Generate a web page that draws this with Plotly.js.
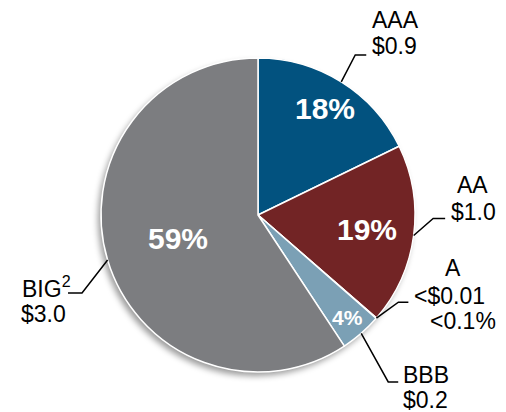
<!DOCTYPE html>
<html>
<head>
<meta charset="utf-8">
<script src="https://cdn.plot.ly/plotly-3.0.1.min.js"></script>
<style>
html,body{margin:0;padding:0;background:#fff;}
#wrap{position:relative;width:506px;height:412px;}
#chart{position:absolute;left:0;top:0;width:506px;height:412px;}
#shadow{position:absolute;border-radius:50%;background:#fff;box-shadow:-3px 4px 6px rgba(0,0,0,0.4);}
</style>
</head>
<body>
<div id="wrap"><div id="shadow"></div><div id="chart"></div></div>
<script>
// ---- data ----
var categories = ["AAA", "AA", "A", "BBB", "BIG<sup>2</sup>"];
var sharePct = [17.8, 18.6, 0.05, 4.3, 59.3];          // share of pie, %
var amountLabels = ["$0.9", "$1.0", "<$0.01", "$0.2", "$3.0"];
var pctLabels = ["18%", "19%", "<0.1%", "4%", "59%"];
var sliceColors = ["#02527f", "#722425", "#722425", "#7ba0b5", "#7c7d80"];

// ---- layout config (pixels) ----
var W = 506, H = 412;
var CX = 258, CY = 215, R = 157;
function px(x){ return x / W; }
function py(y){ return 1 - y / H; }

// decorative drop shadow behind the pie
var sh = document.getElementById("shadow");
sh.style.left = (CX - R) + "px"; sh.style.top = (CY - R) + "px";
sh.style.width = (2 * R) + "px"; sh.style.height = (2 * R) + "px";

// leader: elbow offset from start on circle, then horizontal tail
var leaders = [
  {ex: 14, ey: -27, tail: 11},
  {ex: 19.5, ey: -17, tail: 12},
  {ex: 22, ey: -16, tail: 10},
  {ex: 27, ey: 48.6, tail: 10},
  {ex: -25.6, ey: 33, tail: -14}
];
// text lines relative to tail end: [dx, dy, xanchor]
var labelLines = [
  [[4, -35, "left"], [4, -8.5, "left"]],
  [[27.5, -34, "center"], [28, -6.5, "center"]],
  [[44.5, -34, "center"], [41, -6, "center"], [55, 18.5, "center"]],
  [[3, -7, "left"], [3, 18.5, "left"]],
  [[-48, -6.5, "left"], [-49, 20.5, "left"]]
];
var pctStyle = [
  {rf: 0.80, size: 30},
  {rf: 0.70, size: 30},
  null,
  {rf: 0.87, size: 21},
  {rf: 0.53, size: 30}
];

// ---- compute angles from data ----
var total = sharePct.reduce(function(a,b){return a+b;}, 0);
var cum = 0, mids = [];
for (var i = 0; i < sharePct.length; i++) {
  var a0 = cum / total * 360;
  cum += sharePct[i];
  var a1 = cum / total * 360;
  mids.push((a0 + a1) / 2);
}
function polar(angDeg, r){
  var t = angDeg * Math.PI / 180;
  return [CX + r * Math.sin(t), CY - r * Math.cos(t)];
}

var shapes = [], annotations = [];
var font = "Liberation Sans, Arial, sans-serif";
for (var k = 0; k < categories.length; k++) {
  var s = polar(mids[k], R);
  var L = leaders[k];
  var e = [s[0] + L.ex, s[1] + L.ey];
  var t = [e[0] + L.tail, e[1]];
  shapes.push({
    type: "path", xref: "paper", yref: "paper",
    path: "M " + px(s[0]) + "," + py(s[1]) + " L " + px(e[0]) + "," + py(e[1]) + " L " + px(t[0]) + "," + py(t[1]),
    line: {color: "#000", width: 1.5}
  });
  var texts = [categories[k], amountLabels[k]];
  if (k === 2) texts.push(pctLabels[k]);
  var lines = labelLines[k];
  for (var j = 0; j < lines.length; j++) {
    annotations.push({
      xref: "paper", yref: "paper",
      x: px(t[0] + lines[j][0]), y: py(t[1] + lines[j][1]),
      xanchor: lines[j][2], yanchor: "middle",
      text: texts[j], showarrow: false,
      font: {family: font, size: 23, color: "#000"}
    });
  }
  if (pctStyle[k]) {
    var p = polar(mids[k], R * pctStyle[k].rf);
    annotations.push({
      xref: "paper", yref: "paper", x: px(p[0]), y: py(p[1]),
      xanchor: "center", yanchor: "middle",
      text: "<b>" + pctLabels[k] + "</b>", showarrow: false,
      font: {family: font, size: pctStyle[k].size, color: "#fff"}
    });
  }
}

var trace = {
  type: "pie",
  labels: categories,
  values: sharePct,
  sort: false,
  direction: "clockwise",
  rotation: 0,
  textinfo: "none",
  hoverinfo: "label+percent",
  marker: {colors: sliceColors, line: {color: "#fff", width: 1.5}},
  domain: {x: [px(CX - R), px(CX + R)], y: [py(CY + R), py(CY - R)]}
};

var layout = {
  width: W, height: H,
  margin: {l: 0, r: 0, t: 0, b: 0, pad: 0},
  showlegend: false,
  paper_bgcolor: "rgba(0,0,0,0)",
  plot_bgcolor: "rgba(0,0,0,0)",
  shapes: shapes,
  annotations: annotations
};

Plotly.newPlot("chart", [trace], layout, {displayModeBar: false, staticPlot: true});
</script>
</body>
</html>
